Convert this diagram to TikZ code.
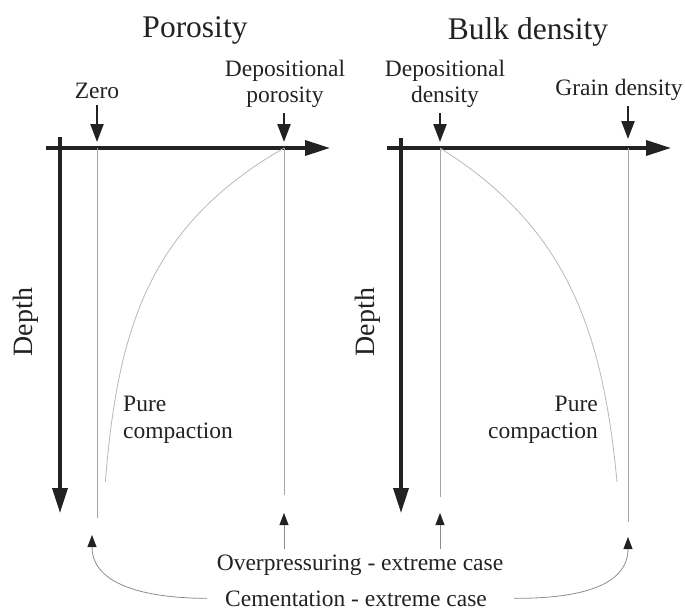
\documentclass[tikz,border=0pt]{standalone}
\usepackage{fontspec}
\setmainfont{Liberation Serif}
\usetikzlibrary{arrows.meta}

\definecolor{ink}{HTML}{222222}
\definecolor{guidegray}{HTML}{A6A6A6}
\definecolor{trendgray}{HTML}{B8B8B8}

\tikzset{
  axis/.style={line width=3.5pt,ink,-{Triangle[length=25pt,width=15pt]}},
  tag/.style={line width=2.3pt,ink,-{Triangle[length=18pt,width=13pt]}},
  guide/.style={line width=0.8pt,guidegray},
  trend/.style={line width=0.8pt,trendgray},
  hint/.style={line width=0.8pt,guidegray!85!black,-{Triangle[length=12pt,width=9pt,color=ink]}},
  lbl/.style={text=ink,font=\fontsize{23.5}{26.5}\selectfont,inner sep=2pt,align=center},
  ttl/.style={text=ink,font=\fontsize{31.5}{36}\selectfont,inner sep=0pt},
}

\begin{document}
\begin{tikzpicture}[x=1pt,y=-1pt]
  \useasboundingbox (0,0) rectangle (685,611);

  % porosity panel
  \node[ttl] (por) at (195,30) {Porosity};
  \coordinate (zero) at (97,148);
  \coordinate (phi0) at (284,148);
  \draw[axis] (46,148) -- (330,148);
  \draw[axis] (60,137) -- (60,513);
  \node[ttl,rotate=90,font=\fontsize{28}{32}\selectfont] (dl) at (26,322) {Depth};
  \node[lbl] (zr) at (97,91) {Zero};
  \node[lbl] (dp) at (285,84) {Depositional\\porosity};
  \draw[tag,shorten <=4pt,shorten >=6pt] (zr.south) -- (zero);
  \draw[tag,shorten <=3pt,shorten >=6pt] (dp.south -| phi0) -- (phi0);
  \draw[guide] (zero) -- (97,518);
  \draw[guide] (phi0) -- (284,495);
  \draw[trend] plot[domain=148:482,samples=60,smooth] ({97+187*exp(-0.0093*(\x-148))},\x);
  \node[lbl,align=left,inner sep=0pt] (pcl) at (178,420) {Pure\\compaction};

  % bulk density panel
  \node[ttl] (bd) at (528,32) {Bulk density};
  \coordinate (rho0) at (440,148);
  \coordinate (rhog) at (628,148);
  \draw[axis] (387,148) -- (671,148);
  \draw[axis] (401,138) -- (401,513);
  \node[ttl,rotate=90,font=\fontsize{28}{32}\selectfont] (dr) at (368,322) {Depth};
  \node[lbl] (dd) at (445,84) {Depositional\\density};
  \node[lbl] (gd) at (619,90) {Grain density};
  \draw[tag,shorten <=3pt,shorten >=6pt] (dd.south -| rho0) -- (rho0);
  \draw[tag,shorten <=3pt,shorten >=9pt] (gd.south -| rhog) -- (rhog);
  \draw[guide] (rho0) -- (440,497);
  \draw[guide] (rhog) -- (628,522);
  \draw[trend] plot[domain=148:482,samples=60,smooth] ({440+188*(1-exp(-0.0085*(\x-148)))},\x);
  \node[lbl,align=right,inner sep=0pt] (pcr) at (543,420) {Pure\\compaction};

  % extreme cases
  \node[lbl,anchor=base] (ovp) at (360,570) {Overpressuring - extreme case};
  \node[lbl,anchor=base] (cem) at (356,606) {Cementation - extreme case};
  \coordinate (ovpL) at (284,513);
  \coordinate (ovpR) at (440,513);
  \coordinate (cemL) at (92,535);
  \coordinate (cemR) at (628,537);
  \draw[hint,shorten <=3pt] (ovp.north -| ovpL) -- (ovpL);
  \draw[hint,shorten <=3pt] (ovp.north -| ovpR) -- (ovpR);
  \draw[hint,shorten <=16pt] (cem.west) to[out=180,in=-90] (cemL);
  \draw[hint,shorten <=25pt] (cem.east) to[out=0,in=-90] (cemR);

\end{tikzpicture}
\end{document}
